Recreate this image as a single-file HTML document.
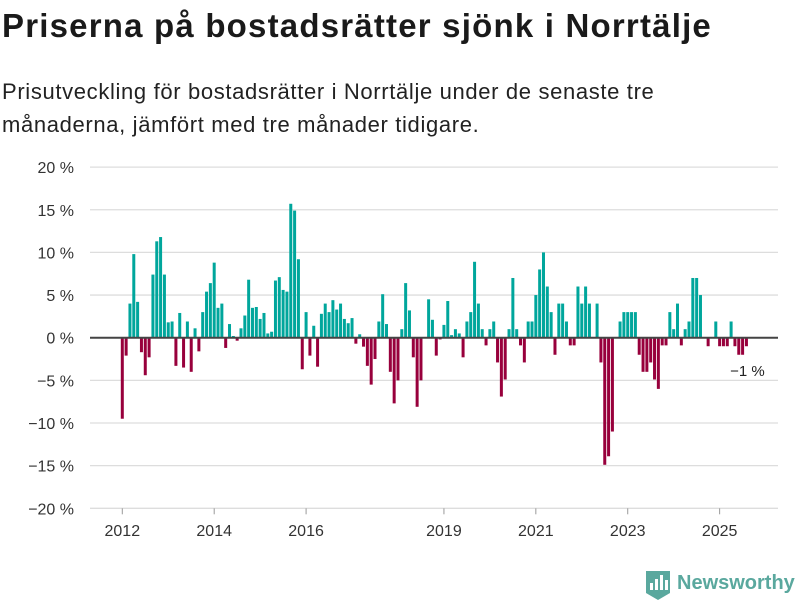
<!DOCTYPE html>
<html><head><meta charset="utf-8">
<style>
html,body{margin:0;padding:0;background:#fff;}
body{width:800px;height:600px;overflow:hidden;position:relative;font-family:"Liberation Sans",sans-serif;color:#1a1a1a;}
#title{position:absolute;left:2px;top:7px;font-size:33px;font-weight:bold;margin:0;white-space:nowrap;letter-spacing:1.2px;}
#subtitle{position:absolute;left:2px;top:75px;font-size:22px;line-height:33px;margin:0;color:#222;letter-spacing:0.65px;white-space:nowrap;}
svg{position:absolute;left:0;top:0;}
</style></head>
<body>
<h1 id="title">Priserna på bostadsrätter sjönk i Norrtälje</h1>
<p id="subtitle">Prisutveckling för bostadsrätter i Norrtälje under de senaste tre<br>månaderna, jämfört med tre månader tidigare.</p>
<svg id="chart" width="800" height="600"></svg>
<script>
const values = [-9.5,-2.1,4.0,9.8,4.2,-1.7,-4.4,-2.3,7.4,11.3,11.8,7.4,1.8,1.9,-3.3,2.9,-3.5,1.9,-4.0,1.1,-1.6,3.0,5.4,6.4,
8.8,3.5,4.0,-1.2,1.6,0.2,-0.35,1.1,2.6,6.8,3.5,3.6,2.2,2.9,0.5,0.7,6.7,7.1,5.6,5.4,15.7,14.9,9.2,-3.7,
3.0,-2.1,1.4,-3.4,2.8,4.0,3.0,4.4,3.3,4.0,2.2,1.7,2.3,-0.7,0.4,-1.05,-3.3,-5.5,-2.5,1.9,5.1,1.6,-4.0,-7.7,
-5.0,1.0,6.4,3.2,-2.3,-8.1,-5.0,0,4.5,2.1,-2.1,-0.2,1.5,4.3,0.3,1.0,0.5,-2.3,1.9,3.0,8.9,4.0,1.0,-0.9,
1.0,1.9,-2.9,-6.9,-4.9,1.0,7.0,1.0,-0.9,-2.9,1.9,1.9,5.0,8.0,10.0,6.0,3.0,-2.0,4.0,4.0,1.9,-0.9,-0.9,6.0,
4.0,6.0,4.0,0,4.0,-2.9,-14.9,-13.9,-11.0,0,1.9,3.0,3.0,3.0,3.0,-2.0,-4.0,-4.0,-2.9,-4.9,-6.0,-0.9,-0.9,3.0,
1.0,4.0,-0.9,1.0,1.9,7.0,7.0,5.0,0,-1.0,0,1.9,-1.0,-1.0,-1.0,1.9,-1.0,-2.0,-2.0,-1.0];
const startYear = 2012;
const yTicks = [20,15,10,5,0,-5,-10,-15,-20];
const yTickLabels = ["20 %","15 %","10 %","5 %","0 %","−5 %","−10 %","−15 %","−20 %"];
const xTickYears = [2012,2014,2016,2019,2021,2023,2025];
const lastLabel = "−1 %";

const NS="http://www.w3.org/2000/svg";
const svg=document.getElementById('chart');
const plotL=90, plotR=778;
function y(v){return 337.7 - v*8.53;}
function x(i){return 122.3 + i*3.829;}
function mk(tag,attrs){const e=document.createElementNS(NS,tag);for(const k in attrs)e.setAttribute(k,attrs[k]);svg.appendChild(e);return e;}

yTicks.forEach((t,k)=>{
  if(t!==0){
    const g=mk('line',{x1:plotL,x2:plotR,y1:y(t),y2:y(t),stroke:'#dddddd','stroke-width':1.3});
    
    
  }
  const lb=mk('text',{x:74,y:y(t)+6,'text-anchor':'end','font-size':16,fill:'#333','font-family':'Liberation Sans, sans-serif'});
  lb.textContent=yTickLabels[k];
  
  
});

values.forEach((v,i)=>{
  if(v===0)return;
  const top=v>0?y(v):y(0), h=Math.abs(y(v)-y(0));
  const r=mk('rect',{x:x(i)-1.5,y:top,width:3,height:h,fill:v>0?'#00a69c':'#98003c'});
  
  
});

const zl=mk('line',{x1:plotL,x2:plotR,y1:y(0),y2:y(0),stroke:'#444','stroke-width':2});



xTickYears.forEach(yr=>{
  const i=(yr-startYear)*12;
  const tk=mk('line',{x1:x(i),x2:x(i),y1:y(-20),y2:y(-20)+6,stroke:'#999','stroke-width':1});
  
  
  const t=mk('text',{x:x(i),y:536,'text-anchor':'middle','font-size':16,fill:'#333','font-family':'Liberation Sans, sans-serif'});
  t.textContent=yr;
  
  
});

const li=values.length-1;
const ll=mk('text',{x:x(li)+1,y:y(values[li])+30,'text-anchor':'middle','font-size':15,fill:'#222','font-family':'Liberation Sans, sans-serif'});
ll.textContent=lastLabel;


</script>
<svg width="800" height="600" style="pointer-events:none">
  <path d="M646 571 h24 v22 l-12 7 l-12 -7 z" fill="#5aa89e"/>
  <rect x="650" y="583" width="3" height="7" fill="#fff"/>
  <rect x="655" y="579" width="3" height="11" fill="#fff"/>
  <rect x="660" y="575" width="3" height="15" fill="#fff"/>
  <rect x="665" y="580" width="3" height="10" fill="#fff"/>
  <text x="677" y="589" font-size="20" font-weight="bold" fill="#5aa89e" font-family="Liberation Sans, sans-serif">Newsworthy</text>
</svg>
</body></html>
